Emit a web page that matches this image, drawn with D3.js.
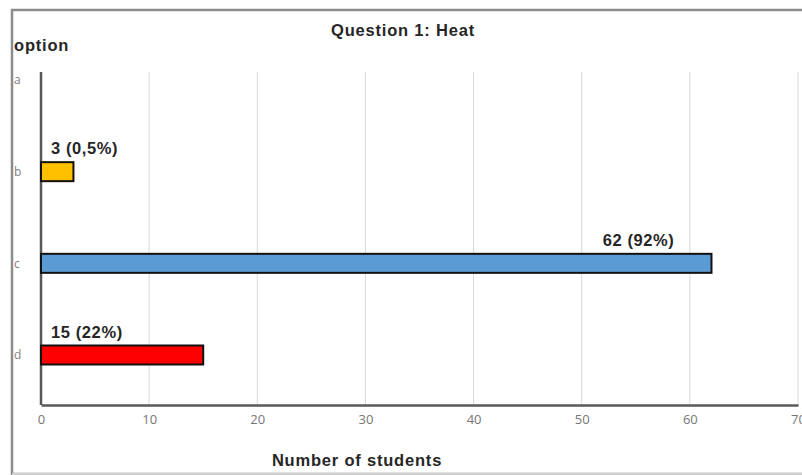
<!DOCTYPE html>
<html>
<head>
<meta charset="utf-8">
<script src="https://cdn.jsdelivr.net/npm/d3@7"></script>
<style>
  html, body { margin: 0; padding: 0; background: #fff; }
  svg { display: block; }
</style>
</head>
<body>
<svg id="chart" width="802" height="475"></svg>
<script>
// Answers to question 1 and how many students chose each option
const options = ["a", "b", "c", "d"];
const students = [null, 3, 62, 15];
const labels = ["", "3 (0,5%)", "62 (92%)", "15 (22%)"];
const barColors = ["#ffffff", "#ffc000", "#5b9bd5", "#ff0000"];
const xTicks = [0, 10, 20, 30, 40, 50, 60, 70];

const svg = d3.select("#chart");
const W = 802, H = 475;
const boldFont = "'Liberation Sans', Arial, sans-serif";

// outer frame
svg.append("rect")
  .attr("x", 12).attr("y", 10)
  .attr("width", W).attr("height", 464)
  .attr("fill", "#fff")
  .attr("stroke", "#8c8c8c").attr("stroke-width", 2.5);
svg.append("line")
  .attr("x1", 12).attr("x2", W).attr("y1", 474).attr("y2", 474)
  .attr("stroke", "#e6e6e6").attr("stroke-width", 1.5);

const x = d3.scaleLinear().domain([0, 70]).range([41, 798]);
const y = d3.scalePoint().domain(options).range([80, 355]);
const plotTop = 72, plotBottom = 405;
const barH = 19;

// vertical gridlines
svg.append("g")
  .selectAll("line")
  .data(xTicks.slice(1))
  .join("line")
  .attr("x1", d => x(d)).attr("x2", d => x(d))
  .attr("y1", plotTop).attr("y2", plotBottom)
  .attr("stroke", "#d9d9d9").attr("stroke-width", 1);

// x axis
const xAxis = svg.append("g")
  .attr("transform", `translate(0,${plotBottom})`)
  .call(d3.axisBottom(x).tickValues(xTicks).tickSize(0).tickPadding(10));
xAxis.select(".domain").attr("stroke", "#595959").attr("stroke-width", 2.5);
xAxis.selectAll("text")
  .attr("fill", "#767676")
  .style("font-family", "'Open Sans', sans-serif")
  .style("font-size", "13px");

// y axis
const yAxis = svg.append("g")
  .attr("transform", `translate(${x(0)},0)`)
  .call(d3.axisLeft(y).tickSize(0).tickPadding(20));
yAxis.select(".domain").attr("d", `M0,${plotTop}V${plotBottom}`)
  .attr("stroke", "#595959").attr("stroke-width", 2.5);
yAxis.selectAll("text")
  .attr("text-anchor", "start")
  .attr("dx", 0)
  .attr("x", 14 - x(0))
  .attr("fill", "#7f7f7f")
  .style("font-family", "'Open Sans', sans-serif")
  .style("font-size", "12px");

// bars
const rows = options.map((o, i) => ({ o, v: students[i], label: labels[i], color: barColors[i] }))
  .filter(d => d.v !== null);

svg.append("g")
  .selectAll("rect")
  .data(rows)
  .join("rect")
  .attr("x", x(0))
  .attr("y", d => y(d.o) - barH / 2)
  .attr("width", d => x(d.v) - x(0))
  .attr("height", barH)
  .attr("fill", d => d.color)
  .attr("stroke", "#111").attr("stroke-width", 2);

// value labels above the bars
svg.append("g")
  .selectAll("text")
  .data(rows)
  .join("text")
  .attr("x", d => d.v > 40 ? x(d.v) - 37 : x(0) + 10)
  .attr("y", d => y(d.o) - barH / 2 - 8)
  .attr("text-anchor", d => d.v > 40 ? "end" : "start")
  .attr("fill", "#262626")
  .style("font-family", boldFont)
  .style("font-weight", "bold")
  .style("font-size", "16.5px")
  .style("letter-spacing", "0.6px")
  .text(d => d.label);

// titles
const title = (txt, tx, ty, anchor) => svg.append("text")
  .attr("x", tx).attr("y", ty)
  .attr("text-anchor", anchor)
  .attr("fill", "#262626")
  .style("font-family", boldFont)
  .style("font-weight", "bold")
  .style("font-size", "16.5px")
  .style("letter-spacing", "0.8px")
  .text(txt);

title("Question 1: Heat", 403, 36, "middle");
title("option", 14, 51, "start");
title("Number of students", 357, 466, "middle");
</script>
</body>
</html>
